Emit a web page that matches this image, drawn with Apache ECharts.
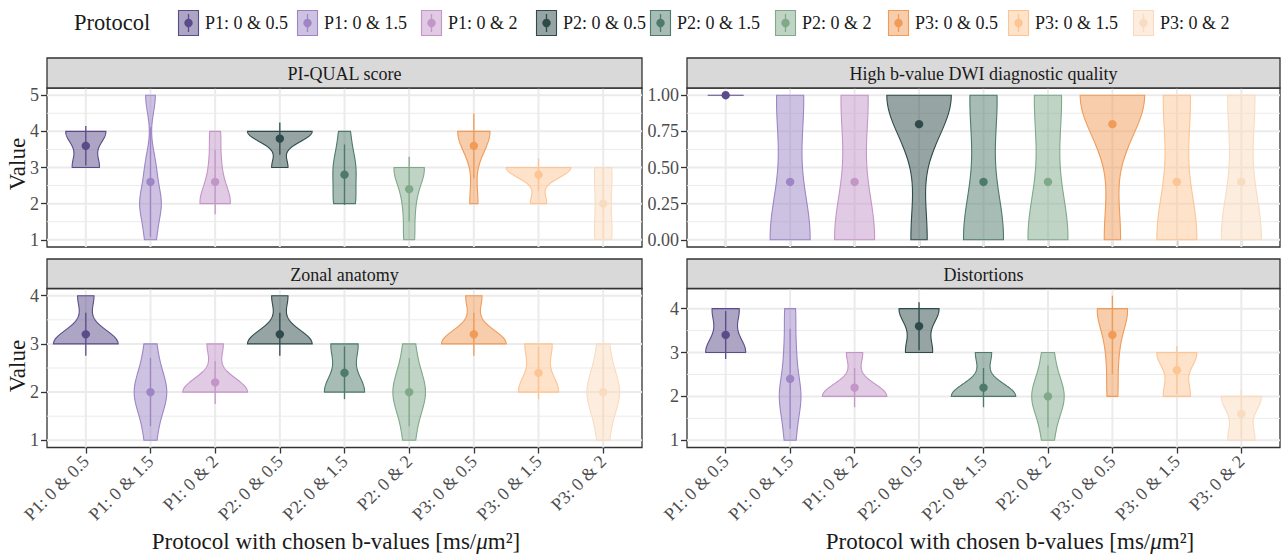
<!DOCTYPE html>
<html>
<head>
<meta charset="utf-8">
<script src="https://cdn.jsdelivr.net/npm/echarts@6/dist/echarts.min.js"></script>
<style>
  html, body { margin: 0; padding: 0; background: #ffffff; }
  #chart { width: 1282px; height: 555px; }
</style>
</head>
<body>
<div id="chart"></div>
<script>
// ---- data -----------------------------------------------------------------
const protocols = ['P1: 0 & 0.5', 'P1: 0 & 1.5', 'P1: 0 & 2',
                   'P2: 0 & 0.5', 'P2: 0 & 1.5', 'P2: 0 & 2',
                   'P3: 0 & 0.5', 'P3: 0 & 1.5', 'P3: 0 & 2'];

const panelTitles = ['PI-QUAL score', 'High b-value DWI diagnostic quality',
                     'Zonal anatomy', 'Distortions'];

// Scores given by the five readers, one list per protocol
const piQualScores = [[3,3,4,4,4],[1,2,2,3,5],[2,2,2,3,4],[3,4,4,4,4],[2,2,3,3,4],
                      [1,2,3,3,3],[2,4,4,4,4],[2,3,3,3,3],[1,1,2,3,3]];
const highBScores = [[1,1,1,1,1],[0,0,0,1,1],[0,0,0,1,1],[0,1,1,1,1],[0,0,0,1,1],
                     [0,0,0,1,1],[0,1,1,1,1],[0,0,0,1,1],[0,0,0,1,1]];
const zonalScores = [[3,3,3,3,4],[1,2,2,2,3],[2,2,2,2,3],[3,3,3,3,4],[2,2,2,3,3],
                     [1,2,2,2,3],[3,3,3,3,4],[2,2,2,3,3],[1,2,2,2,3]];
const distortionScores = [[3,3,3,4,4],[1,2,2,3,4],[2,2,2,2,3],[3,3,4,4,4],[2,2,2,2,3],
                          [1,2,2,2,3],[2,3,4,4,4],[2,2,3,3,3],[1,1,2,2,2]];

// y tick labels per panel
const piQualTicks = [1, 2, 3, 4, 5];
const highBTicks = [0, 0.25, 0.5, 0.75, 1];
const zonalTicks = [1, 2, 3, 4];
const distortionTicks = [1, 2, 3, 4];
const highBLimits = [0, 1];

// ---- styling ----------------------------------------------------------------
const protocolColors = ['#5b4b8a', '#9d85c6', '#c496c8',
                        '#2e4a4a', '#4d7a6b', '#80a98a',
                        '#f09b58', '#fdc594', '#f9dcc0'];
const SERIF = '"Liberation Serif", "Times New Roman", serif';
const TEXT_DARK = '#1a1a1a';
const TICK_TEXT = '#4d4d4d';
const FRAME = '#333333';
const GRID_LINE = '#ebebeb';

// plot rectangles: [left, top, width, height]
const panelRects = [[47, 88, 595, 159], [687, 88, 593, 159],
                    [47, 288.5, 595, 159], [687, 288.5, 593, 159]];
const stripHeight = [30, 30, 29.5, 29.5];
const legendKeyX = [178, 297, 421, 536, 650, 775, 888, 1008, 1133];

function hexToRgba(hex, a) {
  const n = parseInt(hex.slice(1), 16);
  return 'rgba(' + ((n >> 16) & 255) + ',' + ((n >> 8) & 255) + ',' + (n & 255) + ',' + a + ')';
}

// ---- statistics: mean, sd and gaussian kernel density (bw.nrd0) -------------
function sampleStats(x) {
  const n = x.length;
  const mean = x.reduce((a, b) => a + b, 0) / n;
  const sd = Math.sqrt(x.reduce((a, b) => a + (b - mean) * (b - mean), 0) / (n - 1));
  return { mean, sd };
}
function quantile(sorted, p) {
  const h = (sorted.length - 1) * p, i = Math.floor(h);
  const j = Math.min(i + 1, sorted.length - 1);
  return sorted[i] + (h - i) * (sorted[j] - sorted[i]);
}
function bandwidth(sorted) {
  const sd = sampleStats(sorted).sd;
  const iqr = quantile(sorted, 0.75) - quantile(sorted, 0.25);
  let lo = Math.min(sd, iqr / 1.34);
  if (!lo) lo = sd || Math.abs(sorted[0]) || 1;
  return 0.9 * lo * Math.pow(sorted.length, -0.2);
}
function densityProfile(x, steps) {
  const s = x.slice().sort((a, b) => a - b);
  const bw = bandwidth(s);
  const lo = s[0], hi = s[s.length - 1];
  const out = [];
  for (let k = 0; k <= steps; k++) {
    const y = lo + (hi - lo) * k / steps;
    let d = 0;
    for (const v of s) { const z = (y - v) / bw; d += Math.exp(-0.5 * z * z); }
    out.push([y, d / (s.length * bw * Math.sqrt(2 * Math.PI))]);
  }
  return out;
}

const panelDefs = [
  { title: panelTitles[0], scores: piQualScores, ticks: piQualTicks, limits: null, decimals: 0 },
  { title: panelTitles[1], scores: highBScores, ticks: highBTicks, limits: highBLimits, decimals: 2 },
  { title: panelTitles[2], scores: zonalScores, ticks: zonalTicks, limits: null, decimals: 0 },
  { title: panelTitles[3], scores: distortionScores, ticks: distortionTicks, limits: null, decimals: 0 }
];

const panels = panelDefs.map(def => {
  const groups = def.scores.map((x, i) => {
    const st = sampleStats(x);
    const lo = st.mean - st.sd, hi = st.mean + st.sd;
    const inLimits = !def.limits || (lo >= def.limits[0] && hi <= def.limits[1]);
    return { i, mean: st.mean, sd: st.sd, min: Math.min(...x), max: Math.max(...x),
             showBar: inLimits && st.sd > 0, profile: densityProfile(x, 96) };
  });
  const maxD = Math.max(...groups.map(g => Math.max(...g.profile.map(p => p[1]))));
  let lo, hi;
  if (def.limits) { lo = def.limits[0]; hi = def.limits[1]; }
  else {
    lo = Math.min(...groups.map(g => Math.min(g.min, g.showBar ? g.mean - g.sd : g.min)));
    hi = Math.max(...groups.map(g => Math.max(g.max, g.showBar ? g.mean + g.sd : g.max)));
  }
  const pad = 0.05 * (hi - lo);
  const minor = [];
  for (let k = 0; k + 1 < def.ticks.length; k++) minor.push((def.ticks[k] + def.ticks[k + 1]) / 2);
  return Object.assign({}, def, { groups, maxD, yMin: lo - pad, yMax: hi + pad, minor });
});

const catValues = protocols.map((_, i) => i + 1);

// ---- option -------------------------------------------------------------------
const grids = [], xAxes = [], yAxes = [], series = [], graphics = [];

panels.forEach((panel, p) => {
  const [left, top, width, height] = panelRects[p];
  grids.push({ left, top, width, height, containLabel: false, outerBoundsMode: 'none',
               show: true, backgroundColor: '#ffffff', borderColor: FRAME, borderWidth: 1.3 });

  xAxes.push({
    type: 'value', gridIndex: p, min: 0.4, max: 9.6,
    axisLine: { show: false }, splitLine: { show: false },
    axisTick: { show: p !== 0, length: 6, customValues: catValues,
                lineStyle: { color: FRAME, width: 1.3 } },
    axisLabel: { show: p >= 2, customValues: catValues, rotate: 45, margin: 11,
                 formatter: v => protocols[Math.round(v) - 1],
                 fontFamily: SERIF, fontSize: 18, color: TICK_TEXT }
  });
  yAxes.push({
    type: 'value', gridIndex: p, min: panel.yMin, max: panel.yMax,
    axisLine: { show: false }, splitLine: { show: false },
    axisTick: { show: true, length: 6, customValues: panel.ticks,
                lineStyle: { color: FRAME, width: 1.3 } },
    axisLabel: { customValues: panel.ticks, margin: 8,
                 formatter: v => Number(v).toFixed(panel.decimals),
                 fontFamily: SERIF, fontSize: 18, color: TICK_TEXT }
  });

  // background grid: 0 = major horizontal, 1 = minor horizontal, 2 = vertical
  const gridData = []
    .concat(panel.minor.map(v => [1, v]))
    .concat(panel.ticks.map(v => [0, v]))
    .concat(catValues.map(v => [2, v]));
  series.push({
    type: 'custom', xAxisIndex: p, yAxisIndex: p, z: 1, silent: true, clip: false,
    data: gridData,
    renderItem(params, api) {
      const cs = params.coordSys;
      const kind = api.value(0), v = api.value(1);
      let shape;
      if (kind === 2) {
        const px = api.coord([v, panel.yMin])[0];
        shape = { x1: px, y1: cs.y, x2: px, y2: cs.y + cs.height };
      } else {
        const py = api.coord([1, v])[1];
        shape = { x1: cs.x, y1: py, x2: cs.x + cs.width, y2: py };
      }
      return { type: 'line', shape, style: { stroke: GRID_LINE, lineWidth: kind === 1 ? 1 : 2 } };
    }
  });

  // violins with mean ± sd
  series.push({
    type: 'custom', xAxisIndex: p, yAxisIndex: p, z: 2, silent: true, clip: false,
    data: panel.groups.map(g => [g.i + 1, g.mean]),
    renderItem(params, api) {
      const g = panel.groups[params.dataIndex];
      const xc = g.i + 1;
      const col = protocolColors[g.i];
      const k = 0.5 / panel.maxD;
      const right = g.profile.map(([y, d]) => api.coord([xc + d * k, y]));
      const left = g.profile.slice().reverse().map(([y, d]) => api.coord([xc - d * k, y]));
      const children = [{
        type: 'polygon', shape: { points: right.concat(left) },
        style: { fill: hexToRgba(col, 0.5), stroke: col, lineWidth: 1.1 }
      }];
      if (g.showBar) {
        const a = api.coord([xc, g.mean - g.sd]), b = api.coord([xc, g.mean + g.sd]);
        children.push({ type: 'line', shape: { x1: a[0], y1: a[1], x2: b[0], y2: b[1] },
                        style: { stroke: col, lineWidth: 1.3 } });
      }
      const c = api.coord([xc, g.mean]);
      children.push({ type: 'circle', shape: { cx: c[0], cy: c[1], r: 4.2 }, style: { fill: col } });
      return { type: 'group', children };
    }
  });

  // facet strip
  const sh = stripHeight[p];
  graphics.push({ type: 'rect', shape: { x: left, y: top - sh, width, height: sh },
                  style: { fill: '#d9d9d9', stroke: FRAME, lineWidth: 1.3 }, z: 10 });
  graphics.push({ type: 'text', x: left + width / 2, y: top - sh / 2 + 1, z: 11,
                  style: { text: panel.title, font: '18px ' + SERIF, fill: TEXT_DARK,
                           textAlign: 'center', textVerticalAlign: 'middle',
                           align: 'center', verticalAlign: 'middle' } });
});

// axis titles
[[17.5, 164], [17.5, 366]].forEach(([x, y]) => {
  graphics.push({ type: 'text', x, y, rotation: Math.PI / 2,
                  style: { text: 'Value', font: '23px ' + SERIF, fill: TEXT_DARK,
                           textAlign: 'center', textVerticalAlign: 'middle',
                           align: 'center', verticalAlign: 'middle' } });
});
const xTitleRich = {
  a: { fontFamily: SERIF, fontSize: 23, color: TEXT_DARK },
  mu: { fontFamily: SERIF, fontSize: 23, fontStyle: 'italic', color: TEXT_DARK }
};
[[336, 541], [1010, 541]].forEach(([x, y]) => {
  graphics.push({ type: 'text', x, y,
                  style: { text: '{a|Protocol with chosen b-values [ms/}{mu|\u03bc}{a|m\u00b2]}',
                           rich: xTitleRich, font: '23px ' + SERIF,
                           fill: TEXT_DARK, textAlign: 'center', textVerticalAlign: 'middle',
                           align: 'center', verticalAlign: 'middle' } });
});

// legend
graphics.push({ type: 'text', x: 74, y: 22,
                style: { text: 'Protocol', font: '22.5px ' + SERIF, fill: TEXT_DARK,
                         textAlign: 'left', textVerticalAlign: 'middle',
                         align: 'left', verticalAlign: 'middle' } });
protocols.forEach((name, i) => {
  const x = legendKeyX[i], top = 10, w = 21, h = 26, col = protocolColors[i];
  graphics.push({ type: 'rect', shape: { x: x + 0.5, y: top + 0.5, width: w - 1, height: h - 1 },
                  style: { fill: hexToRgba(col, 0.5), stroke: col, lineWidth: 1.1 } });
  graphics.push({ type: 'line', shape: { x1: x + w / 2, y1: top + 4, x2: x + w / 2, y2: top + h - 4 },
                  style: { stroke: col, lineWidth: 1.3 } });
  graphics.push({ type: 'circle', shape: { cx: x + w / 2, cy: top + h / 2, r: 4.2 }, style: { fill: col } });
  graphics.push({ type: 'text', x: x + w + 6, y: top + h / 2,
                  style: { text: name, font: '18px ' + SERIF, fill: TEXT_DARK,
                           textAlign: 'left', textVerticalAlign: 'middle',
                           align: 'left', verticalAlign: 'middle' } });
});

const chart = echarts.init(document.getElementById('chart'), null,
                           { renderer: 'svg', width: 1282, height: 555 });
chart.setOption({
  animation: false,
  backgroundColor: '#ffffff',
  grid: grids, xAxis: xAxes, yAxis: yAxes, series, graphic: graphics
});
</script>
</body>
</html>
